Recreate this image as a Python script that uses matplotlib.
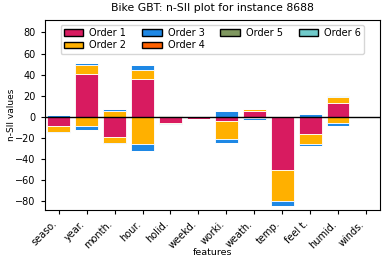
import numpy as np
import matplotlib
matplotlib.use("Agg")
import matplotlib.pyplot as plt
from matplotlib.patches import Patch

features = ["seaso.", "year.", "month.", "hour.", "holid.", "weekd.",
            "worki.", "weath.", "temp.", "feel t.", "humid.", "winds."]
order_labels = ["Order 1", "Order 2", "Order 3", "Order 4", "Order 5", "Order 6"]
order_colors = ["#D81B60", "#FFB000", "#1E88E5", "#FE6100", "#7F975F", "#70CACA"]

# positive parts per order (orders 1..6)
pos_o1 = [0.0, 41.0, 0.0, 36.2, 0.0, 0.0, 0.0, 5.7, 0.0, 0.0, 13.2, 0.0]
pos_o2 = [0.0, 8.5, 5.3, 7.8, 1.0, 0.0, 0.0, 2.3, 0.0, 0.0, 5.8, 0.0]
pos_o3 = [1.5, 1.9, 2.0, 4.9, 0.0, 0.0, 5.7, 0.0, 0.0, 3.0, 0.0, 0.0]
pos_o4 = [0.0, 0.0, 0.0, 0.0, 0.0, 0.0, 0.0, 0.0, 0.0, 0.0, 0.0, 0.0]
pos_o5 = [0.0, 0.0, 0.0, 0.0, 0.8, 0.0, 0.0, 0.0, 0.0, 0.0, 0.0, 0.0]
pos_o6 = [0.0, 0.0, 0.0, 0.0, 0.0, 0.0, 0.0, 0.0, 0.0, 0.0, 0.5, 0.0]

# negative parts per order
neg_o1 = [-9.0, 0.0, -18.7, 0.0, -6.0, -2.2, -4.3, 0.0, -50.0, -16.0, 0.0, 0.0]
neg_o2 = [-5.0, -8.3, -5.8, -26.0, -1.0, 0.0, -16.7, -0.6, -29.5, -9.8, -6.0, 0.0]
neg_o3 = [-1.0, -4.4, -1.2, -6.0, -1.0, 0.0, -3.3, -2.3, -4.5, -1.5, -3.0, 0.0]
neg_o4 = [0.0, 0.0, 0.0, 0.0, 0.0, 0.0, 0.0, 0.0, 0.0, 0.0, 0.0, 0.0]
neg_o5 = [0.0, 0.0, 0.0, 0.0, 0.0, 0.0, 0.0, 0.0, 0.0, 0.0, 0.0, 0.0]
neg_o6 = [-0.5, 0.0, 0.0, 0.0, 0.0, 0.0, 0.0, 0.0, 0.0, 0.0, 0.0, 0.0]

pos_parts = [pos_o1, pos_o2, pos_o3, pos_o4, pos_o5, pos_o6]
neg_parts = [neg_o1, neg_o2, neg_o3, neg_o4, neg_o5, neg_o6]

fig, ax = plt.subplots(figsize=(3.88, 2.64), dpi=100)
x = np.arange(len(features))

bottom_pos = np.zeros(len(features))
bottom_neg = np.zeros(len(features))
for i in range(len(order_labels)):
    p = np.array(pos_parts[i])
    n = np.array(neg_parts[i])
    ax.bar(x, p, bottom=bottom_pos, color=order_colors[i], edgecolor="white",
           linewidth=0.6, width=0.8)
    ax.bar(x, n, bottom=bottom_neg, color=order_colors[i], edgecolor="white",
           linewidth=0.6, width=0.8)
    bottom_pos += p
    bottom_neg += n

ax.axhline(0, color="black", linewidth=1.0)
ax.set_xlim(-0.5, len(features) - 0.5)
ax.set_ylim(-88, 92)
ax.set_yticks([-80, -60, -40, -20, 0, 20, 40, 60, 80])
ax.set_xticks(x)
ax.set_xticklabels(features, rotation=45, ha="right")
ax.tick_params(labelsize=7, length=3)

handles = [Patch(facecolor=c, edgecolor="black", label=l)
           for c, l in zip(order_colors, order_labels)]
ax.legend(handles=handles, loc="upper center", ncol=4, fontsize=7,
          handlelength=2.0, columnspacing=1.65, borderpad=0.35,
          labelspacing=0.25, handletextpad=0.6)

ax.set_title("Bike GBT: n-SII plot for instance 8688", fontsize=7.8)
ax.set_xlabel("features", fontsize=6.8, labelpad=-1.5)
ax.set_ylabel("n-SII values", fontsize=6.5)
ax.yaxis.set_label_coords(-0.085, 0.5)

fig.subplots_adjust(left=0.115, right=0.98, top=0.925, bottom=0.205)
plt.savefig("out.png", dpi=100)
